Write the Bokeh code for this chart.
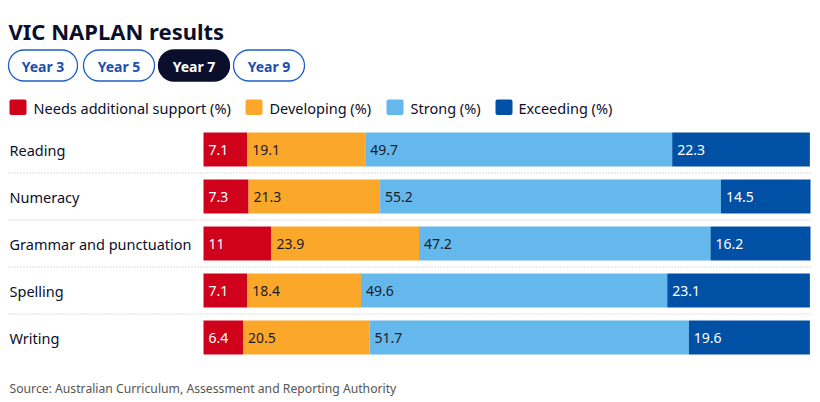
from bokeh.plotting import figure
from bokeh.models import Range1d, ColumnDataSource
from bokeh.core.properties import value
from bokeh.embed import file_html
from bokeh.resources import INLINE

# ---- data ----
categories = ["Reading", "Numeracy", "Grammar and punctuation", "Spelling", "Writing"]
needs_support = [7.1, 7.3, 11, 7.1, 6.4]
developing = [19.1, 21.3, 23.9, 18.4, 20.5]
strong = [49.7, 55.2, 47.2, 49.6, 51.7]
exceeding = [22.3, 14.5, 16.2, 23.1, 19.6]
series_names = ["Needs additional support (%)", "Developing (%)", "Strong (%)", "Exceeding (%)"]
year_buttons = ["Year 3", "Year 5", "Year 7", "Year 9"]
selected_year = "Year 7"
title_text = "VIC NAPLAN results"
source_text = "Source: Australian Curriculum, Assessment and Reporting Authority"

# ---- styles / layout ----
FONT = "Noto Sans"
W, H = 812, 402
colors = ["#d0021b", "#fba72a", "#64b8ec", "#0051a5"]
label_colors = ["#ffffff", "#1b1b2b", "#1b1b2b", "#ffffff"]
DARK = "#0b0f2b"
BAR_LEFT_PX, BAR_RIGHT_PX = 203, 810
XMAX = max(a + b + c + d for a, b, c, d in zip(needs_support, developing, strong, exceeding))
scale = (BAR_RIGHT_PX - BAR_LEFT_PX) / XMAX
x0 = -BAR_LEFT_PX / scale
x1 = (W - BAR_LEFT_PX) / scale


def px(v):
    return x0 + v / scale


ROW0, PITCH, BAR_H = 149, 47, 34

p = figure(width=W, height=H, output_backend="svg", toolbar_location=None,
           x_range=Range1d(x0, x1), y_range=Range1d(H, 0),
           x_axis_location=None, y_axis_location=None, min_border=0)
p.grid.visible = False
p.outline_line_color = None
p.background_fill_color = "white"
p.border_fill_color = "white"

# title
p.text(x=[px(8)], y=[30], text=[title_text], text_font=value(FONT), text_font_style="bold",
       text_font_size="22px", text_color=DARK, text_baseline="alphabetic", text_align="left")

# buttons
btn_l = [8, 83, 158, 233]
btn_r = [77, 154, 229, 304]
btn_fill = [DARK if b == selected_year else "white" for b in year_buttons]
btn_line = [DARK if b == selected_year else "#1f5fc9" for b in year_buttons]
btn_text_col = ["white" if b == selected_year else "#1b4fae" for b in year_buttons]
bsrc = ColumnDataSource(dict(left=[px(v) for v in btn_l], right=[px(v) for v in btn_r],
                             cx=[px((a + b) / 2) for a, b in zip(btn_l, btn_r)],
                             fill=btn_fill, line=btn_line, tc=btn_text_col, t=year_buttons))
p.quad(left="left", right="right", top=49.5, bottom=80.5, source=bsrc, fill_color="fill",
       line_color="line", line_width=1.3, border_radius=16)
p.text(x="cx", y=65.5, text="t", source=bsrc, text_font=value(FONT), text_font_style="bold",
       text_font_size="14px", text_color="tc", text_align="center", text_baseline="middle")

# legend
leg_sq = [9, 245, 386, 495]
leg_tx = [33, 269, 410, 518]
p.quad(left=[px(v) for v in leg_sq], right=[px(v + 17) for v in leg_sq], top=99, bottom=114.5,
       fill_color=colors, line_color=None, border_radius=2)
p.text(x=[px(v) for v in leg_tx], y=107, text=series_names, text_font=value(FONT),
       text_font_size="14.5px", text_color=DARK, text_baseline="middle", text_align="left")

# separators
for i in range(len(categories) - 1):
    yy = ROW0 + PITCH * i + 23.5
    p.line(x=[px(8), px(810)], y=[yy, yy], line_color="#bbbbbb", line_width=1, line_dash="1 2")

# bars
ys = [ROW0 + PITCH * i for i in range(len(categories))]
series = [needs_support, developing, strong, exceeding]
left = [0.0] * len(categories)
for k, vals in enumerate(series):
    right = [l + v for l, v in zip(left, vals)]
    src = ColumnDataSource(dict(y=ys, left=left, right=right,
                                lab=[("%g" % v) for v in vals]))
    p.hbar(y="y", left="left", right="right", height=BAR_H, source=src,
           fill_color=colors[k], line_color=None)
    p.text(x="left", y="y", text="lab", source=src, x_offset=5, text_font=value(FONT),
           text_font_size="14px", text_color=label_colors[k], text_baseline="middle",
           text_align="left")
    left = right

# category labels
p.text(x=[px(9)] * len(categories), y=ys, text=categories, text_font=value(FONT),
       text_font_size="14.5px", text_color=DARK, text_baseline="middle", text_align="left")

# source
p.text(x=[px(9)], y=[388], text=[source_text], text_font=value(FONT),
       text_font_size="12.2px", text_color="#555555", text_baseline="middle", text_align="left")

open("out.html", "w").write(file_html(p, INLINE))
